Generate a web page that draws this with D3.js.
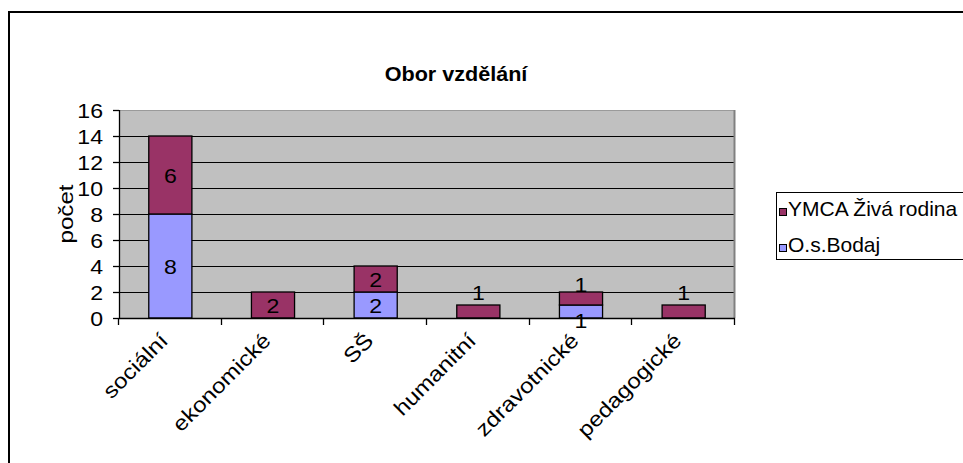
<!DOCTYPE html>
<html><head><meta charset="utf-8">
<script src="https://cdn.jsdelivr.net/npm/d3@7"></script>
<style>
html,body{margin:0;padding:0;background:#fff;}
svg{display:block;}
text{font-family:"Liberation Sans",Arial,sans-serif;fill:#000;}
</style></head>
<body>
<svg id="chart" width="963" height="463"></svg>
<script>
const categories = ["sociální","ekonomické","SŠ","humanitní","zdravotnické","pedagogické"];
const bodaj = [8,0,2,0,1,0];
const ymca  = [6,2,2,1,1,1];
const yTicks = [0,2,4,6,8,10,12,14,16];
const seriesNames = ["YMCA Živá rodina","O.s.Bodaj"];
const seriesColors = {"O.s.Bodaj":"#9999FF","YMCA Živá rodina":"#993366"};
const title = "Obor vzdělání";
const yTitle = "počet";

const svg = d3.select("#chart");
const SX = 1.1, FS = 21;
const plot = {left:119, right:735, top:110, bottom:318};

// outer frame
svg.append("rect").attr("x",9).attr("y",12).attr("width",980).attr("height",470)
  .attr("fill","#fff").attr("stroke","#000").attr("stroke-width",2);

const x = d3.scaleBand().domain(categories).range([plot.left, plot.right])
  .paddingInner(0.58).paddingOuter(0.29);
const step = x.step();
const y = d3.scaleLinear().domain([0,16]).range([plot.bottom, plot.top]);

function stext(g, txt, tx, ty, opts={}) {
  const t = g.append("text")
    .attr("transform", `translate(${tx},${ty}) rotate(${opts.rot||0}) scale(${opts.sx||SX},1)`)
    .attr("text-anchor", opts.anchor||"middle")
    .attr("font-size", opts.fs||FS)
    .attr("font-weight", opts.bold?"bold":"normal")
    .text(txt);
  if (opts.dy) t.attr("dy", opts.dy);
  return t;
}

// plot background
svg.append("rect").attr("x",plot.left).attr("y",plot.top)
  .attr("width",plot.right-plot.left).attr("height",plot.bottom-plot.top)
  .attr("fill","#C0C0C0");

// gridlines
svg.append("g").selectAll("line").data(yTicks.filter(v=>v>0 && v<16)).join("line")
  .attr("x1",plot.left).attr("x2",plot.right)
  .attr("y1",d=>Math.round(y(d))+0.5).attr("y2",d=>Math.round(y(d))+0.5)
  .attr("stroke","#000").attr("stroke-width",1);
// plot top / right border
svg.append("line").attr("x1",plot.left).attr("x2",plot.right).attr("y1",plot.top+0.5).attr("y2",plot.top+0.5)
  .attr("stroke","#9a9a9a").attr("stroke-width",1);
svg.append("line").attr("x1",plot.right-0.5).attr("x2",plot.right-0.5).attr("y1",plot.top).attr("y2",plot.bottom)
  .attr("stroke","#808080").attr("stroke-width",2);

// stacked data
const data = categories.map((c,i)=>({cat:c, "O.s.Bodaj":bodaj[i], "YMCA Živá rodina":ymca[i]}));
const stack = d3.stack().keys(["O.s.Bodaj","YMCA Živá rodina"]);
const stacked = stack(data);

const bars = svg.append("g");
stacked.forEach(s=>{
  bars.selectAll(null).data(s.filter(d=>d[1]-d[0]>0)).join("rect")
    .attr("x",d=>x(d.data.cat)).attr("width",x.bandwidth())
    .attr("y",d=>y(d[1])).attr("height",d=>y(d[0])-y(d[1]))
    .attr("fill",seriesColors[s.key]).attr("stroke","#000").attr("stroke-width",1.3);
});

// data labels
const lbl = svg.append("g");
stacked.forEach((s,si)=>{
  s.forEach(d=>{
    const v = d[1]-d[0];
    if (v<=0) return;
    const top = y(d[1]), bot = y(d[0]);
    let cy = (top+bot)/2;
    if (bot-top < 20) {
      if (si===1) cy = top - (d[0]>0 ? 8 : 13);
      else cy = bot + 2;
    }
    stext(lbl, String(v), x(d.data.cat)+x.bandwidth()/2, cy, {dy:"0.36em"});
  });
});

// y axis
const ya = svg.append("g");
ya.append("line").attr("x1",plot.left+0.5).attr("x2",plot.left+0.5).attr("y1",plot.top).attr("y2",plot.bottom)
  .attr("stroke","#000").attr("stroke-width",1.3);
yTicks.forEach(v=>{
  const yy = Math.round(y(v))+0.5;
  ya.append("line").attr("x1",plot.left-6).attr("x2",plot.left).attr("y1",yy).attr("y2",yy)
    .attr("stroke","#000").attr("stroke-width",1.3);
  stext(ya, String(v), plot.left-16, y(v), {anchor:"end", dy:"0.36em"});
});

// x axis
const xa = svg.append("g");
xa.append("line").attr("x1",plot.left).attr("x2",plot.right).attr("y1",plot.bottom+0.5).attr("y2",plot.bottom+0.5)
  .attr("stroke","#000").attr("stroke-width",1.3);
d3.range(categories.length+1).forEach(i=>{
  const xx = Math.round(plot.left + i*step)-0.5;
  xa.append("line").attr("x1",xx).attr("x2",xx).attr("y1",plot.bottom).attr("y2",plot.bottom+7)
    .attr("stroke","#000").attr("stroke-width",1.3);
});
categories.forEach(c=>{
  const cx = x(c)+x.bandwidth()/2;
  stext(xa, c, cx-1, plot.bottom+24, {anchor:"end", rot:-45, sx:1.15});
});

// titles
stext(svg, title, 456, 81, {bold:true, fs:20, sx:1.08});
stext(svg, yTitle, 73, (plot.top+plot.bottom)/2, {rot:-90, sx:1.15});

// legend
const lg = svg.append("g");
lg.append("rect").attr("x",776.5).attr("y",192.5).attr("width",220).attr("height",67)
  .attr("fill","#fff").attr("stroke","#000").attr("stroke-width",1);
seriesNames.forEach((n,i)=>{
  const by = 216 + i*36;
  lg.append("rect").attr("x",779.5).attr("y",by-7.5).attr("width",7).attr("height",7)
    .attr("fill",seriesColors[n]).attr("stroke","#000").attr("stroke-width",1);
  stext(lg, n, 788, by, {anchor:"start", sx:1.0});
});
</script>
</body></html>
